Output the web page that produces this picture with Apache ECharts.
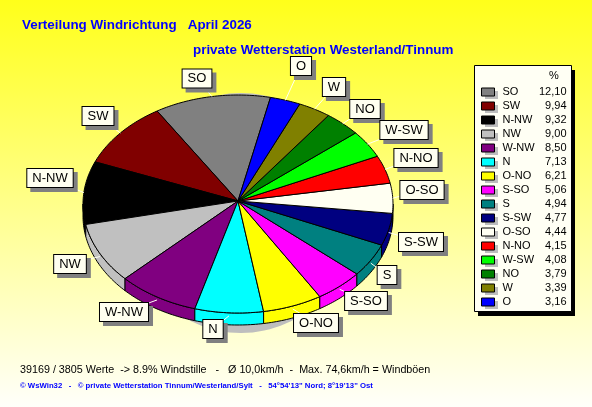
<!DOCTYPE html>
<html><head><meta charset="utf-8">
<style>html,body{margin:0;padding:0;background:#fff}#c{width:592px;height:407px}</style>
<script src="https://cdn.jsdelivr.net/npm/echarts@6/dist/echarts.min.js"></script>
</head><body><div id="c"></div>
<script>
const categories = ['SO','SW','N-NW','NW','W-NW','N','O-NO','S-SO','S','S-SW','O-SO','N-NO','W-SW','NO','W','O'];
const values = [12.10,9.94,9.32,9.00,8.50,7.13,6.21,5.06,4.94,4.77,4.44,4.15,4.08,3.79,3.39,3.16];
const valueLabels = ['12,10','9,94','9,32','9,00','8,50','7,13','6,21','5,06','4,94','4,77','4,44','4,15','4,08','3,79','3,39','3,16'];
const colors = ['#808080','#800000','#000000','#c0c0c0','#800080','#00ffff','#ffff00','#ff00ff','#008080','#000080','#fffff2','#ff0000','#00ff00','#008000','#808000','#0000ff'];

// presentation only
const pie = {cx:238, cy:204, apexY:201, rx:155, ry:109, depth:12, startDeg:12.1};
const shadow = {cx:241, cy:213, rx:115, ry:120};
const panel = {x:474, y:65, w:97, h:246, firstRowY:91, rowH:14, iconX:481, iconW:13, iconH:8};
const labelCenters = {'SO':[197,78.5],'SW':[98,116],'N-NW':[50,178],'NW':[70,264],'W-NW':[124,312],'N':[213,329],'O-NO':[316,323],'S-SO':[366,301],'S':[387,275],'S-SW':[421,242],'O-SO':[422,190],'N-NO':[416,158],'W-SW':[404,130],'NO':[365,109],'W':[334,87],'O':[301,66]};

const total = values.reduce((a,b)=>a+b,0);
const rimPoint = (deg,dy=0)=>{const t=deg*Math.PI/180;return [pie.cx+pie.rx*Math.sin(t),pie.cy-pie.ry*Math.cos(t)+dy];};
const arc = (a,b,dy=0)=>{const n=Math.max(2,Math.ceil(Math.abs(a-b)));const p=[];for(let i=0;i<=n;i++)p.push(rimPoint(a+(b-a)*i/n,dy));return p;};

let cum = 0;
const sliceSeries = categories.map((name,i)=>{
  const before = cum; cum += values[i];
  return {
    type:'custom', name, coordinateSystem:'none', silent:true, animation:false,
    itemStyle:{color:colors[i]},
    data:[[values[i],before]],
    renderItem:(params,api)=>{
      const a0 = pie.startDeg - api.value(1)/total*360;
      const a1 = a0 - api.value(0)/total*360;
      const style = {fill:colors[i],stroke:'#000',lineWidth:1};
      const children = [];
      const lo = Math.max(a1,-270), hi = Math.min(a0,-90);
      if (hi>lo){
        children.push({type:'polygon',z2:1,shape:{points:arc(hi,lo).concat(arc(lo,hi,pie.depth))},style});
      }
      children.push({type:'polygon',z2:2,shape:{points:[[pie.cx,pie.apexY]].concat(arc(a0,a1))},style});
      const mid = (a0+a1)/2, c = labelCenters[name];
      const s = rimPoint(mid,Math.cos(mid*Math.PI/180)<0?3:0);
      children.push({type:'line',z2:3,shape:{x1:s[0],y1:s[1],x2:c[0],y2:c[1]},style:{stroke:'#fffff4',lineWidth:1}});
      const box = {text:name,x:c[0],y:c[1],align:'center',verticalAlign:'middle',font:'13px "Liberation Sans"',padding:[3,5,2,5]};
      children.push({type:'text',z2:4,x:4,y:4,style:Object.assign({},box,{fill:'#808080',backgroundColor:'#808080',borderColor:'#808080',borderWidth:1})});
      children.push({type:'text',z2:5,style:Object.assign({},box,{fill:'#000',backgroundColor:'#fffff0',borderColor:'#000',borderWidth:1})});
      return {type:'group',children};
    }
  };
});
const shadowSeries = {
  type:'custom',name:'shadow',coordinateSystem:'none',silent:true,animation:false,data:[[0]],
  renderItem:()=>({type:'ellipse',z2:0,shape:shadow,style:{fill:'#bebebe'}})
};

const blue='#0000ff';
const panelGraphics = [
  {type:'rect',z:1,shape:{x:panel.x+4,y:panel.y+5,width:panel.w,height:panel.h},style:{fill:'#000'}},
  {type:'rect',z:2,shape:{x:panel.x+.5,y:panel.y+.5,width:panel.w,height:panel.h},style:{fill:'#fffff4',stroke:'#000',lineWidth:1}}
].concat(categories.map((c,i)=>({type:'rect',z:3,shape:{x:panel.iconX+4,y:panel.firstRowY+i*panel.rowH-panel.iconH/2+4,width:panel.iconW,height:panel.iconH},style:{fill:'#bdbdbd'}})));

const chart = echarts.init(document.getElementById('c'),null,{renderer:'canvas'});
chart.setOption({
  animation:false,
  backgroundColor:{type:'linear',x:0,y:0,x2:0,y2:1,colorStops:[{offset:0,color:'#ffff1a'},{offset:1,color:'#fffffa'}]},
  graphic:panelGraphics,
  title:[
    {text:'Verteilung Windrichtung   April 2026',left:22,top:19,padding:0,textStyle:{fontFamily:'Liberation Sans',fontSize:13.4,fontWeight:'bold',color:blue}},
    {text:'private Wetterstation Westerland/Tinnum',left:193,top:44,padding:0,textStyle:{fontFamily:'Liberation Sans',fontSize:13.4,fontWeight:'bold',color:blue}},
    {text:'%',left:549,top:70,padding:0,textStyle:{fontFamily:'Liberation Sans',fontSize:11,fontWeight:'normal',color:'#000'}},
    {text:'39169 / 3805 Werte  -> 8.9% Windstille   -   Ø 10,0km/h  -  Max. 74,6km/h = Windböen',left:20,top:365,padding:0,textStyle:{fontFamily:'Liberation Sans',fontSize:10.75,fontWeight:'normal',color:'#000'}},
    {text:'© WsWin32   -   © private Wetterstation Tinnum/Westerland/Sylt   -   54°54\'13" Nord; 8°19\'13" Ost',left:20,top:382,padding:0,textStyle:{fontFamily:'Liberation Sans',fontSize:7.75,fontWeight:'bold',color:blue}}
  ],
  legend:{
    data:categories,orient:'vertical',left:panel.x,top:panel.y,icon:'rect',selectedMode:false,z:4,
    padding:[20,5,0,7],itemGap:0,itemWidth:panel.iconW,itemHeight:panel.iconH,
    itemStyle:{borderColor:'#000',borderWidth:1},
    formatter:n=>`{n|${n}}{v|${valueLabels[categories.indexOf(n)]}}`,
    textStyle:{rich:{
      n:{fontFamily:'Liberation Sans',fontSize:11,width:36,height:14,lineHeight:14,padding:[0,0,0,3],color:'#000'},
      v:{fontFamily:'Liberation Sans',fontSize:11,width:28,height:14,lineHeight:14,align:'right',color:'#000'}
    }}
  },
  series:[shadowSeries].concat(sliceSeries)
});
</script></body></html>
